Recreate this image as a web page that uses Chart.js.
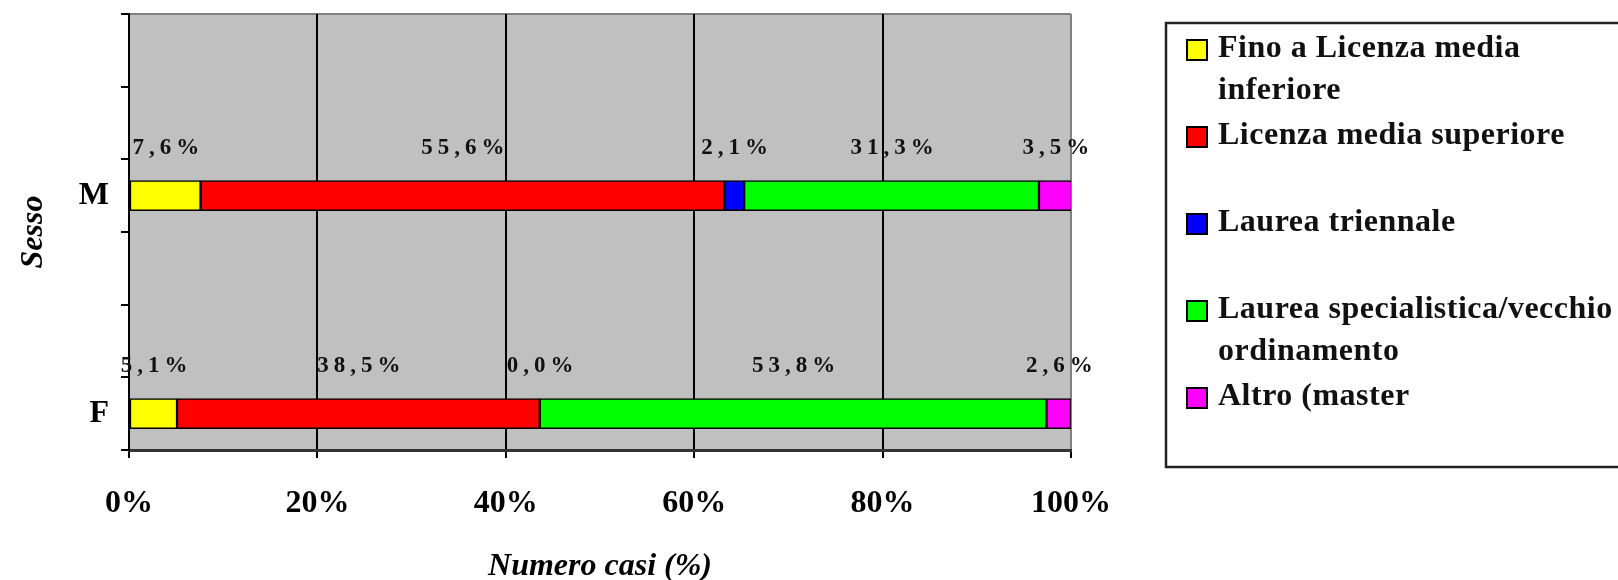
<!DOCTYPE html>
<html>
<head>
<meta charset="utf-8">
<script src="https://cdn.jsdelivr.net/npm/chart.js@4.4.1/dist/chart.umd.min.js"></script>
<style>
  html, body { margin: 0; padding: 0; background: #ffffff; }
  #wrap { width: 1618px; height: 580px; }
</style>
</head>
<body>
<div id="wrap"><canvas id="c" width="1618" height="580"></canvas></div>
<script>
// ---- data ----
const categories = ['M', 'F'];
const seriesNames = [
  'Fino a Licenza media inferiore',
  'Licenza media superiore',
  'Laurea triennale',
  'Laurea specialistica/vecchio ordinamento',
  'Altro (master'
];
const seriesColors = ['#FFFF00', '#FF0000', '#0000FF', '#00FF00', '#FF00FF'];
const finoLicenzaInferiore = [7.6, 5.1];
const licenzaSuperiore = [55.6, 38.5];
const laureaTriennale = [2.1, 0.0];
const laureaSpecialistica = [31.3, 53.8];
const altroMaster = [3.5, 2.6];
const xTickValues = [0, 20, 40, 60, 80, 100];
const xTitle = 'Numero casi (%)';
const yTitle = 'Sesso';

const seriesValues = [finoLicenzaInferiore, licenzaSuperiore, laureaTriennale, laureaSpecialistica, altroMaster];

// category axis has 3 slots per category (two empty slots above each bar)
const SLOTS = 3;
const slotLabels = [];
categories.forEach(c => { for (let i = 0; i < SLOTS - 1; i++) slotLabels.push(''); slotLabels.push(c); });
function toSlots(vals) {
  const out = [];
  vals.forEach(v => { for (let i = 0; i < SLOTS - 1; i++) out.push(null); out.push(v); });
  return out;
}

const SERIF = "'Liberation Serif', 'Times New Roman', serif";

const datasets = seriesNames.map((name, i) => ({
  label: name,
  data: toSlots(seriesValues[i]),
  backgroundColor: seriesColors[i],
  borderColor: '#000000',
  borderWidth: 1.5,
  borderSkipped: false,
  barThickness: 30
}));

const bgPlugin = {
  id: 'bgPlugin',
  beforeDraw(chart) {
    const { ctx, chartArea: a } = chart;
    ctx.save();
    ctx.fillStyle = '#C0C0C0';
    ctx.fillRect(a.left, a.top, a.right - a.left, a.bottom - a.top);
    ctx.strokeStyle = '#808080';
    ctx.lineWidth = 2;
    ctx.beginPath();
    ctx.moveTo(a.left, a.top);
    ctx.lineTo(a.right, a.top);
    ctx.stroke();
    ctx.restore();
  }
};

const valueLabels = {
  id: 'valueLabels',
  afterDatasetsDraw(chart) {
    const { ctx } = chart;
    ctx.save();
    ctx.font = 'bold 23px ' + SERIF;
    ctx.fillStyle = '#111111';
    ctx.textAlign = 'center';
    ctx.textBaseline = 'middle';
    try { ctx.letterSpacing = '5px'; } catch (e) {}
    chart.data.datasets.forEach((ds, di) => {
      const meta = chart.getDatasetMeta(di);
      meta.data.forEach((el, idx) => {
        const v = ds.data[idx];
        if (v === null || v === undefined) return;
        const p = el.getProps(['x', 'y', 'base'], true);
        const cx = (p.x + p.base) / 2 + 3;
        const txt = v.toFixed(1).replace('.', ',') + '%';
        ctx.fillText(txt, cx, p.y - 48);
      });
    });
    ctx.restore();
  }
};

const boxLegend = {
  id: 'boxLegend',
  afterDraw(chart) {
    const { ctx } = chart;
    const boxX = 1166, boxY = 23, boxW = 480, boxH = 444;
    ctx.save();
    ctx.strokeStyle = '#222222';
    ctx.lineWidth = 2.5;
    ctx.strokeRect(boxX, boxY, boxW, boxH);
    ctx.font = 'bold 32px ' + SERIF;
    try { ctx.letterSpacing = '0.5px'; } catch (e) {}
    ctx.textBaseline = 'middle';
    ctx.textAlign = 'left';
    const textX = 1218, maxW = 400;
    const firstY = 50, itemStep = 87, lineStep = 42;
    chart.data.datasets.forEach((ds, i) => {
      const cy = firstY + i * itemStep;
      ctx.fillStyle = ds.backgroundColor;
      ctx.fillRect(1187, cy - 10, 20, 20);
      ctx.strokeStyle = '#000000';
      ctx.lineWidth = 2;
      ctx.strokeRect(1187, cy - 10, 20, 20);
      const words = ds.label.split(' ');
      const lines = [];
      let cur = '';
      words.forEach(w => {
        const t = cur ? cur + ' ' + w : w;
        if (ctx.measureText(t).width > maxW && cur) { lines.push(cur); cur = w; }
        else cur = t;
      });
      if (cur) lines.push(cur);
      ctx.fillStyle = '#111111';
      lines.forEach((ln, k) => ctx.fillText(ln, textX, cy - 1 + k * lineStep));
    });
    ctx.restore();
  }
};

new Chart(document.getElementById('c'), {
  type: 'bar',
  data: { labels: slotLabels, datasets },
  plugins: [bgPlugin, valueLabels, boxLegend],
  options: {
    indexAxis: 'y',
    responsive: false,
    animation: false,
    layout: { padding: { top: 14, right: 547, bottom: 0, left: 0 } },
    plugins: {
      legend: { display: false },
      tooltip: { enabled: false },
      title: { display: false }
    },
    scales: {
      x: {
        stacked: true,
        min: 0,
        max: 100,
        afterBuildTicks(scale) { scale.ticks = xTickValues.map(v => ({ value: v })); },
        afterFit(scale) { scale.height = 130; },
        ticks: {
          autoSkip: false,
          maxRotation: 0,
          padding: 27,
          color: '#000000',
          font: { family: SERIF, size: 32, weight: 'bold' },
          callback: v => v + '%'
        },
        grid: {
          color: ctx => (ctx.tick && ctx.tick.value === 100) ? '#808080' : '#000000',
          tickColor: '#000000',
          lineWidth: 2,
          tickLength: 8,
          drawOnChartArea: true
        },
        border: { display: true, color: '#333333', width: 3 },
        title: {
          display: true,
          text: xTitle,
          color: '#000000',
          font: { family: SERIF, size: 32, weight: 'bold', style: 'italic', lineHeight: 0.8 },
          padding: { top: 0, bottom: 0 }
        }
      },
      y: {
        stacked: true,
        afterFit(scale) {
          scale.width = 129;
          scale.paddingTop = 0;
          scale.paddingBottom = 0;
        },
        ticks: {
          autoSkip: false,
          padding: 12,
          color: '#000000',
          font: { family: SERIF, size: 32, weight: 'bold' }
        },
        grid: {
          offset: true,
          drawOnChartArea: false,
          drawTicks: true,
          tickLength: 8,
          color: '#000000',
          lineWidth: 2
        },
        border: { display: true, color: '#000000', width: 2 },
        title: {
          display: true,
          text: yTitle,
          color: '#000000',
          font: { family: SERIF, size: 32, weight: 'bold', style: 'italic', lineHeight: 0.8 },
          padding: { top: 21, bottom: 0 }
        }
      }
    }
  }
});
</script>
</body>
</html>
